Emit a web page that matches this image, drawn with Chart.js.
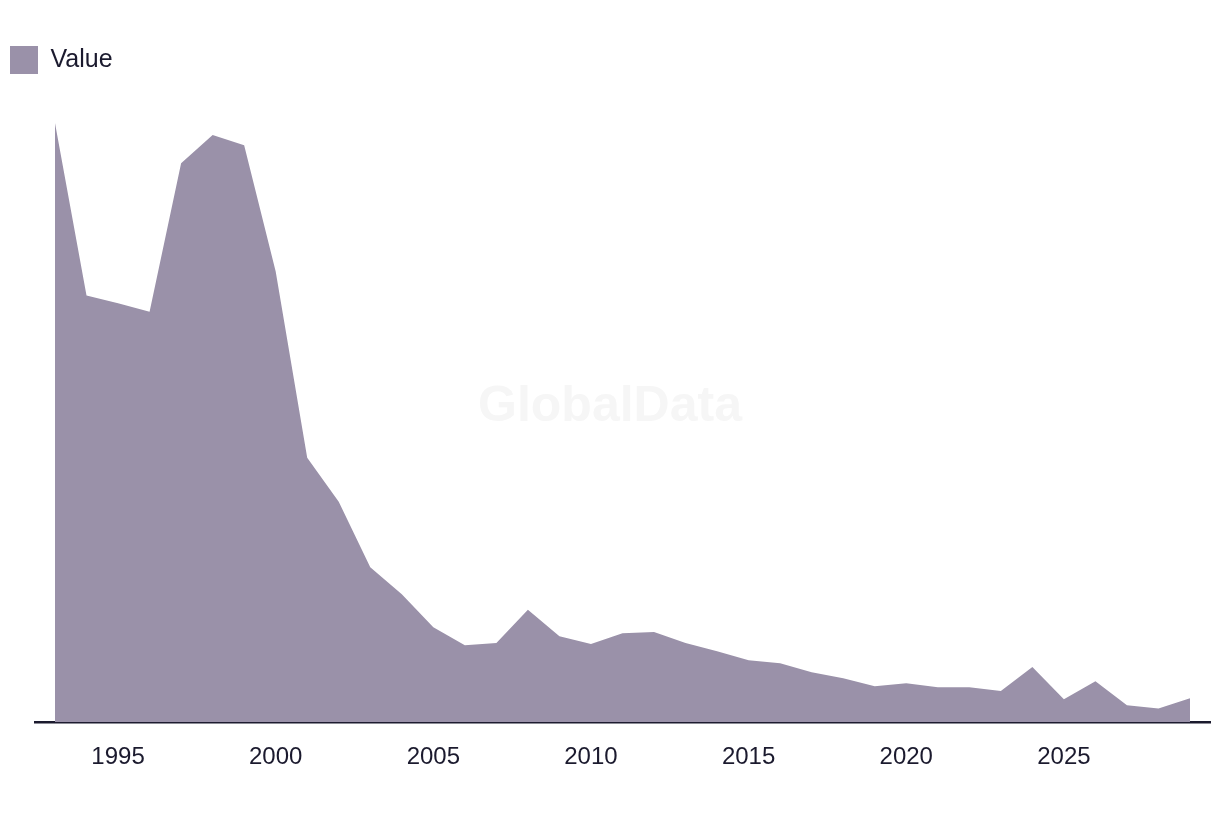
<!DOCTYPE html>
<html>
<head>
<meta charset="utf-8">
<script src="https://cdn.jsdelivr.net/npm/chart.js@4/dist/chart.umd.min.js"></script>
<style>
  html, body { margin: 0; padding: 0; background: #fff; }
  #wrap { width: 1220px; height: 816px; position: relative; }
</style>
</head>
<body>
<div id="wrap"><canvas id="chart"></canvas></div>
<script>
// Data
const years = [1993, 1994, 1995, 1996, 1997, 1998, 1999, 2000, 2001, 2002,
               2003, 2004, 2005, 2006, 2007, 2008, 2009, 2010, 2011, 2012,
               2013, 2014, 2015, 2016, 2017, 2018, 2019, 2020, 2021, 2022,
               2023, 2024, 2025, 2026, 2027, 2028, 2029];
const values = [99.7, 71.0, 69.7, 68.3, 93.0, 97.7, 96.0, 75.0, 44.0, 36.7,
                25.8, 21.3, 15.8, 12.8, 13.2, 18.7, 14.3, 13.0, 14.8, 15.0,
                13.2, 11.8, 10.3, 9.8, 8.3, 7.3, 6.0, 6.5, 5.8, 5.8,
                5.2, 9.2, 3.8, 6.8, 2.8, 2.3, 4.0];
const tickYears = [1995, 2000, 2005, 2010, 2015, 2020, 2025];
const seriesLabel = 'Value';

const FONT = "'Liberation Sans', Arial, sans-serif";
const TEXT = '#1b1a2e';
const FILL = '#9a91a9';

// faint watermark in the middle of the plot
const watermark = {
    id: 'watermark',
    beforeDatasetsDraw(chart) {
        const ctx = chart.ctx;
        ctx.save();
        ctx.font = "bold 50px " + FONT;
        ctx.fillStyle = '#f6f6f6';
        ctx.textAlign = 'center';
        ctx.textBaseline = 'middle';
        ctx.fillText('GlobalData', 610, 407);
        ctx.restore();
    }
};

new Chart(document.getElementById('chart'), {
    type: 'line',
    data: {
        datasets: [{
            label: seriesLabel,
            data: years.map((y, i) => ({ x: y, y: values[i] })),
            backgroundColor: FILL,
            borderColor: FILL,
            borderWidth: 0,
            pointRadius: 0,
            fill: 'origin',
            tension: 0
        }]
    },
    options: {
        responsive: true,
        maintainAspectRatio: false,
        animation: false,
        layout: {
            padding: { top: 36, left: 0, right: 10, bottom: 31 }
        },
        plugins: {
            legend: {
                position: 'top',
                align: 'start',
                labels: {
                    boxWidth: 28,
                    boxHeight: 28,
                    padding: 10,
                    color: TEXT,
                    font: { family: FONT, size: 25 }
                }
            },
            tooltip: { enabled: false }
        },
        scales: {
            x: {
                type: 'linear',
                min: 1993 - 0.634,
                max: 2029 + 0.634,
                afterBuildTicks: axis => {
                    axis.ticks = tickYears.map(v => ({ value: v }));
                },
                grid: { display: false },
                border: { display: true, color: TEXT, width: 2.5 },
                ticks: {
                    color: TEXT,
                    padding: 13,
                    maxRotation: 0,
                    font: { family: FONT, size: 24 },
                    callback: v => String(v)
                }
            },
            y: {
                min: 0,
                max: 106.2,
                grid: { display: false },
                border: { display: false },
                ticks: { display: false },
                // keeps the plot 35px in from the left edge, like the reference
                afterFit: scale => { scale.width = 35; }
            }
        }
    },
    plugins: [watermark]
});
</script>
</body>
</html>
